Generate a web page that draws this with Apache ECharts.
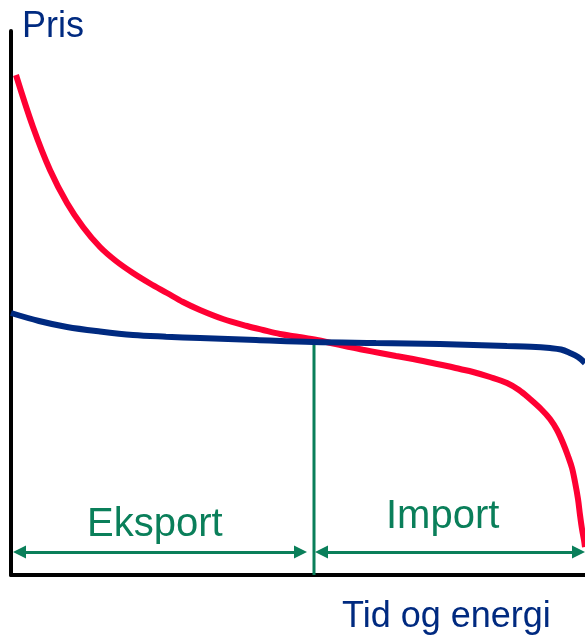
<!DOCTYPE html>
<html>
<head>
<meta charset="utf-8">
<script src="https://cdn.jsdelivr.net/npm/echarts@6/dist/echarts.min.js"></script>
<style>
html,body{margin:0;padding:0;background:#fff;}
#chart{width:585px;height:635px;}
</style>
</head>
<body>
<div id="chart"></div>
<script>
// Data (x: time/energy units, y: price units)
const priceX = [5, 22, 39, 56, 72, 89, 105, 122, 139, 156, 172, 189, 212, 236, 252, 269, 288, 306, 321, 336, 352, 369, 385, 402, 419, 436, 449, 462, 479, 496, 508, 519, 530, 539, 546, 552, 557, 561, 564, 567, 569, 571, 573, 574];
const priceY = [500, 448, 405, 372, 348, 328, 314, 302, 291.5, 282, 273, 265, 256, 249, 245, 241, 238, 235, 231.7, 228.5, 225.2, 222, 219, 216, 212.5, 209, 206, 203, 198, 192, 185, 176, 166, 156, 145, 132, 119, 107, 93, 76, 60, 46, 35, 28];
const flatX = [0, 28, 56, 89, 122, 155, 189, 245, 302, 365, 429, 496, 520, 539, 550, 559, 567, 574];
const flatY = [262, 254, 248, 243.5, 240, 238.3, 237, 235, 233, 232, 231, 229, 228.3, 227, 225.5, 222, 218, 212];
const splitX = 303;
const splitTop = 235;
const arrowY = 23;
const exportRange = [8.5, 289.5];
const importRange = [310.5, 567.5];
const labels = { yName: 'Pris', xName: 'Tid og energi', left: 'Eksport', right: 'Import' };

const RED = '#ff0033', BLUE = '#002a80', GREEN = '#0a7f5a';
const chart = echarts.init(document.getElementById('chart'), null, { renderer: 'canvas' });
const zip = (xs, ys) => xs.map((x, i) => [x, ys[i]]);
const option = {
  animation: false,
  grid: { left: 11, right: 0, top: 31, bottom: 60 },
  xAxis: {
    type: 'value', min: 0, max: 574,
    axisLine: { show: true, onZero: false, lineStyle: { color: '#000', width: 4 } },
    axisTick: { show: false }, axisLabel: { show: false }, splitLine: { show: false }
  },
  yAxis: {
    type: 'value', min: 0, max: 544,
    axisLine: { show: true, onZero: false, lineStyle: { color: '#000', width: 4 } },
    axisTick: { show: false }, axisLabel: { show: false }, splitLine: { show: false }
  },
  series: [
    {
      type: 'line', data: [[splitX, 0], [splitX, splitTop]], symbol: 'none',
      lineStyle: { color: GREEN, width: 3 }, z: 1,
      markLine: {
        silent: true, symbol: ['triangle', 'triangle'], symbolSize: [13, 13],
        label: { show: false },
        lineStyle: { color: GREEN, width: 3, type: 'solid' },
        data: [
          [{ coord: [exportRange[0], arrowY] }, { coord: [exportRange[1], arrowY] }],
          [{ coord: [importRange[0], arrowY] }, { coord: [importRange[1], arrowY] }]
        ]
      }
    },
    {
      type: 'line', data: zip(flatX, flatY), smooth: 0.35, symbol: 'none',
      lineStyle: { color: BLUE, width: 6 }, z: 3
    },
    {
      type: 'line', data: zip(priceX, priceY), smooth: 0.35, symbol: 'none',
      lineStyle: { color: RED, width: 6 }, z: 2
    }
  ],
  graphic: [
    { type: 'text', left: 22, top: 9, style: { text: labels.yName, fill: BLUE, font: '36px "Liberation Sans", Arial, sans-serif' } },
    { type: 'text', left: 342, top: 599, style: { text: labels.xName, fill: BLUE, font: '36px "Liberation Sans", Arial, sans-serif' } },
    { type: 'text', left: 87, top: 505, style: { text: labels.left, fill: GREEN, font: '40px "Liberation Sans", Arial, sans-serif' } },
    { type: 'text', left: 386, top: 497, style: { text: labels.right, fill: GREEN, font: '40px "Liberation Sans", Arial, sans-serif' } }
  ]
};
chart.setOption(option);
</script>
</body>
</html>
